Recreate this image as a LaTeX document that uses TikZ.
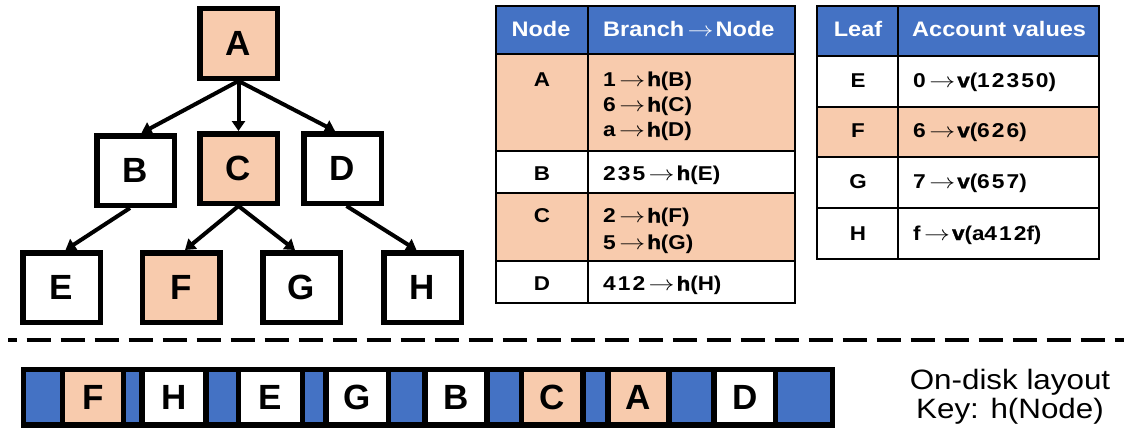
\documentclass[tikz,border=0pt]{standalone}
\usepackage{fontspec}
\setmainfont{Liberation Sans}
% slightly widened face used for the tables and the legend
\newfontfamily\widefam{Liberation Sans}[FakeStretch=1.12]
\newfontfamily\heavyfam{Liberation Sans}[FakeStretch=1.12, BoldFeatures={FakeBold=1.8}]
\newfontfamily\digfam{Liberation Sans}[FakeStretch=1.14, LetterSpace=10]
\usetikzlibrary{arrows.meta}
\definecolor{hdrblue}{HTML}{4472C4}
\definecolor{peach}{HTML}{F8CBAD}
\newcommand\hv[1]{{\heavyfam\bfseries #1}}
\newcommand\dg[1]{{\digfam\bfseries #1}}
\newcommand\ar{\hspace{3.5pt}\scalebox{1.25}[1]{$\rightarrow$}\hspace{2pt}}

\begin{document}
\begin{tikzpicture}[x=1pt,y=-1pt,
  treebox/.style={draw, line width=5.5pt, minimum width=77.5pt, minimum height=69.5pt,
    inner sep=0pt, font=\fontsize{35}{40}\selectfont\bfseries},
  hl/.style={fill=peach},
  tarrow/.style={line width=4pt, -{Triangle[length=10pt,width=13pt]}},
  tline/.style={line width=1.8pt},
  hdr/.style={anchor=base, text=white, inner sep=0pt, font=\widefam\fontsize{21}{24}\selectfont\bfseries},
  key/.style={anchor=base, inner sep=0pt, font=\widefam\fontsize{20}{22}\selectfont\bfseries},
  val/.style={anchor=base west, inner sep=0pt, font=\widefam\fontsize{20}{22}\selectfont\bfseries},
  diskcell/.style={line width=5.5pt},
  disklabel/.style={inner sep=0pt, font=\fontsize{35}{40}\selectfont\bfseries},
  note/.style={anchor=base, inner sep=0pt, font=\widefam\fontsize{28}{32}\selectfont}
]
\useasboundingbox (0,0) rectangle (1124,436);

% ---- tree ----
\node[treebox, hl] (A) at (238.5,43.5) {A};
\node[treebox]     (B) at (135.5,170.5) {B};
\node[treebox, hl] (C) at (238.5,168.5) {C};
\node[treebox]     (D) at (342.5,168.5) {D};
\node[treebox]     (E) at (61.5,287.5) {E};
\node[treebox, hl] (F) at (181,287.5) {F};
\node[treebox]     (G) at (301.5,287.5) {G};
\node[treebox]     (H) at (422.5,287.5) {H};

\draw[tarrow] (A.south) -- ([xshift=6pt]B.north);
\draw[tarrow] (A.south) -- (C.north);
\draw[tarrow] (A.south) -- ([xshift=-7.5pt]D.north);
\draw[tarrow] ([xshift=-5.5pt]B.south) -- ([xshift=4pt]E.north);
\draw[tarrow] (C.south) -- ([xshift=4pt]F.north);
\draw[tarrow] (C.south) -- ([xshift=-6.5pt]G.north);
\draw[tarrow] ([xshift=4pt]D.south) -- ([xshift=-6pt]H.north);

% ---- inner node table ----
\fill[hdrblue] (496,6) rectangle (795,54.3);
\fill[peach] (496,54.3) rectangle (795,151);
\fill[peach] (496,193) rectangle (795,261);
\draw[tline] (496,6) rectangle (795,303);
\foreach \yy in {54.3,151,193,261} \draw[tline] (496,\yy) -- (795,\yy);
\draw[tline] (588,6) -- (588,303);

\node[hdr] (nh1) at (541,36.7) {Node};
\node[hdr, anchor=base west] (nh2) at (603,36.7) {Branch\ar Node};
\node[key] (nA) at (542,86) {A};
\node[val] (nA1) at (603,86) {\dg{1}\ar\hv{h}(B)};
\node[val] (nA2) at (603,111.5) {\dg{6}\ar\hv{h}(C)};
\node[val] (nA3) at (603,136.5) {a\ar\hv{h}(D)};
\node[key] (nB) at (542,180) {B};
\node[val] (nB1) at (603,180) {\dg{235}\ar\hv{h}(E)};
\node[key] (nC) at (542,222.5) {C};
\node[val] (nC1) at (603,222.5) {\dg{2}\ar\hv{h}(F)};
\node[val] (nC2) at (603,249) {\dg{5}\ar\hv{h}(G)};
\node[key] (nD) at (542,290.5) {D};
\node[val] (nD1) at (603,290.5) {\dg{412}\ar\hv{h}(H)};

% ---- leaf table ----
\fill[hdrblue] (817,6) rectangle (1099,56);
\fill[peach] (817,107) rectangle (1099,157);
\draw[tline] (817,6) rectangle (1099,259);
\foreach \yy in {56,107,157,208} \draw[tline] (817,\yy) -- (1099,\yy);
\draw[tline] (898,6) -- (898,259);

\node[hdr] (lh1) at (858,36.7) {Leaf};
\node[hdr, anchor=base west] (lh2) at (912,36.7) {Account values};
\node[key] (lE) at (858,87.3) {E};
\node[val] (lE1) at (913,87.3) {\dg{0}\ar\hv{v}(\dg{12350})};
\node[key] (lF) at (858,137.3) {F};
\node[val] (lF1) at (913,137.3) {\dg{6}\ar\hv{v}(\dg{626})};
\node[key] (lG) at (858,188.3) {G};
\node[val] (lG1) at (913,188.3) {\dg{7}\ar\hv{v}(\dg{657})};
\node[key] (lH) at (858,240) {H};
\node[val] (lH1) at (913,240) {f\ar\hv{v}(a\dg{412}f)};

% ---- separator ----
\draw[line width=3.6pt, dash pattern=on 24pt off 10pt, dash phase=15.6pt] (8.3,340) -- (1124,340);

% ---- on-disk layout ----
\foreach \l/\r/\c/\t [count=\i] in {
  23.4/62.3/hdrblue/, 62.3/123.3/peach/F, 123.3/142/hdrblue/, 142/206.2/white/H,
  206.2/238.7/hdrblue/, 238.7/302.3/white/E, 302.3/326.2/hdrblue/, 326.2/388.7/white/G,
  388.7/425/hdrblue/, 425/487/white/B, 487/521.3/hdrblue/, 521.3/582.8/peach/C,
  582.8/607.8/hdrblue/, 607.8/669.2/peach/A, 669.2/714.2/hdrblue/, 714.2/775.5/white/D,
  775.5/832.7/hdrblue/}{
  \draw[diskcell, fill=\c] (\l,369.5) rectangle (\r,425.2);
  \node[disklabel] (cell\i) at ({(\l+\r)/2},397.35) {\t};
}

\node[note] (lay1) at (1010,389) {On-disk layout};
\node[note] (lay2) at (1010,418) {Key: h(Node)};
\end{tikzpicture}
\end{document}
